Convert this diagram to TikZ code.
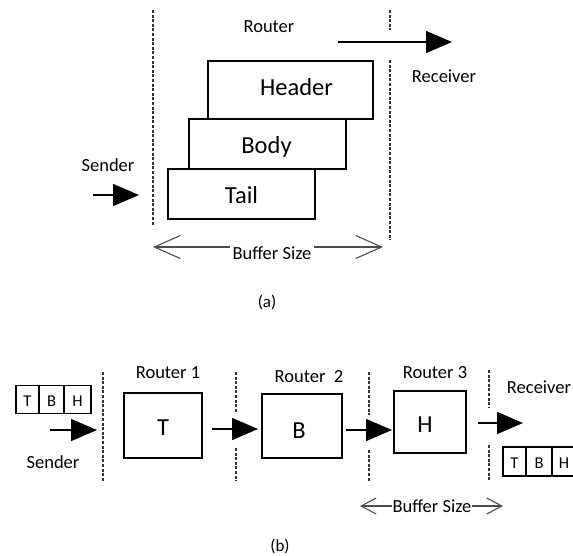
\documentclass[tikz,border=0pt]{standalone}
\usepackage{fontspec}
\setmainfont{Carlito}
\usetikzlibrary{arrows.meta}
\begin{document}
\begin{tikzpicture}[x=1pt,y=-1pt,
  dotline/.style={draw=black!80, line width=1.8pt, dash pattern=on 3pt off 1.6pt},
  pbox/.style={draw=black, line width=1.5pt, inner sep=0pt, fill=white},
  bigtxt/.style={font=\fontsize{24.5}{26}\selectfont, anchor=base, inner sep=0pt},
  lbl/.style={font=\fontsize{18.5}{20}\selectfont, anchor=base, inner sep=0pt},
  cell/.style={draw=black, line width=1.3pt, inner sep=0pt, minimum height=28pt,
    text height=14pt, text depth=0pt, font=\fontsize{16.5}{17}\selectfont},
  arr/.style={line width=1.4pt, -{Triangle[length=26pt,width=22pt]}},
  barb/.style={draw=black!70, line width=1.1pt},
  buftxt/.style={font=\fontsize{18.5}{20}\selectfont, anchor=base, fill=white, inner xsep=3pt, inner ysep=1pt},
]
\useasboundingbox (0,0) rectangle (573,555);

% ---------------- (a) ----------------
\coordinate (la1) at (153,10);  \coordinate (la2) at (153,225);
\draw[dotline] (la1) -- (la2);
\coordinate (ra1) at (390,10);  \coordinate (ra2) at (390,30);
\coordinate (ra3) at (390,60);  \coordinate (ra4) at (390,240);
\draw[dotline] (ra1) -- (ra2);
\draw[dotline] (ra3) -- (ra4);

\node[lbl] (router) at (269,32) {Router};
\node[lbl] (recvA) at (444,82) {Receiver};
\node[lbl] (sendA) at (108,171) {Sender};

\node[pbox, minimum width=165pt, minimum height=58pt] (hdr) at (290.5,90) {};
\node[pbox, minimum width=157pt, minimum height=50pt] (body) at (267.5,144) {};
\node[pbox, minimum width=147pt, minimum height=50pt] (tail) at (241.5,194) {};
\node[bigtxt] (hdrt) at (296.5,95) {Header};
\node[bigtxt] (bodyt) at (266.5,153) {Body};
\node[bigtxt] (tailt) at (241.5,203) {Tail};

\coordinate (sa1) at (93,195);  \coordinate (sa2) at (139,195);
\draw[arr] (sa1) -- (sa2);
\coordinate (oa1) at (338,42);  \coordinate (oa2) at (452,42);
\draw[arr] (oa1) -- (oa2);

\coordinate (bufL) at (153,247); \coordinate (bufR) at (383,247);
\draw[barb, {Straight Barb[length=26pt,width=23pt]}-{Straight Barb[length=26pt,width=23pt]}] (bufL) -- (bufR);
\node[buftxt] (bufA) at (272,259) {Buffer Size};

\node[font=\fontsize{17}{18}\selectfont, anchor=base, inner sep=0pt] (capA) at (267,307) {(a)};

% ---------------- (b) ----------------
\node[cell, minimum width=23pt] (c1) at (27.5,399.5) {T};
\node[cell, minimum width=25pt] (c2) at (51.5,399.5) {B};
\node[cell, minimum width=27pt] (c3) at (77.5,399.5) {H};

\coordinate (d1a) at (103,372); \coordinate (d1b) at (103,481);
\draw[dotline] (d1a) -- (d1b);
\coordinate (d2a) at (236,372); \coordinate (d2b) at (236,413);
\coordinate (d2c) at (236,448); \coordinate (d2d) at (236,481);
\draw[dotline] (d2a) -- (d2b); \draw[dotline] (d2c) -- (d2d);
\coordinate (d3a) at (369,372); \coordinate (d3b) at (369,415);
\coordinate (d3c) at (369,450); \coordinate (d3d) at (369,481);
\draw[dotline] (d3a) -- (d3b); \draw[dotline] (d3c) -- (d3d);
\coordinate (d4a) at (489,370); \coordinate (d4b) at (489,407);
\coordinate (d4c) at (489,445); \coordinate (d4d) at (489,481);
\draw[dotline] (d4a) -- (d4b); \draw[dotline] (d4c) -- (d4d);

\node[lbl] (r1) at (168,378) {Router 1};
\node[lbl] (r2) at (309,382) {Router\ \ 2};
\node[lbl] (r3) at (435,378) {Router 3};
\node[lbl] (recvB) at (539,393) {Receiver};
\node[lbl] (sendB) at (53,468) {Sender};

\node[pbox, minimum width=78pt, minimum height=65pt] (b1) at (163,425.5) {};
\node[pbox, minimum width=80pt, minimum height=64pt] (b2) at (302,426) {};
\node[pbox, minimum width=72pt, minimum height=62pt] (b3) at (430,422) {};
\node[bigtxt] (b1t) at (163,435) {T};
\node[bigtxt] (b2t) at (299,438) {B};
\node[bigtxt] (b3t) at (425,432) {H};

\coordinate (a1s) at (50,430);  \coordinate (a1e) at (97,430);
\coordinate (a2s) at (212,429); \coordinate (a2e) at (258,429);
\coordinate (a3s) at (346,430); \coordinate (a3e) at (392,430);
\coordinate (a4s) at (478,423); \coordinate (a4e) at (523,423);
\draw[arr] (a1s) -- (a1e);
\draw[arr] (a2s) -- (a2e);
\draw[arr] (a3s) -- (a3e);
\draw[arr] (a4s) -- (a4e);

\node[cell, minimum width=23pt, minimum height=29pt] (e1) at (514.5,461.5) {T};
\node[cell, minimum width=26pt, minimum height=29pt] (e2) at (539,461.5) {B};
\node[cell, minimum width=24pt, minimum height=29pt] (e3) at (564,461.5) {H};

\coordinate (buf2L) at (360,506); \coordinate (buf2R) at (503,506);
\draw[barb, {Straight Barb[length=15pt,width=16pt]}-{Straight Barb[length=15pt,width=16pt]}] (buf2L) -- (buf2R);
\node[buftxt, inner xsep=1pt] (bufB) at (432,512) {Buffer Size};

\node[font=\fontsize{17}{18}\selectfont, anchor=base, inner sep=0pt] (capB) at (280,551) {(b)};
\end{tikzpicture}
\end{document}
